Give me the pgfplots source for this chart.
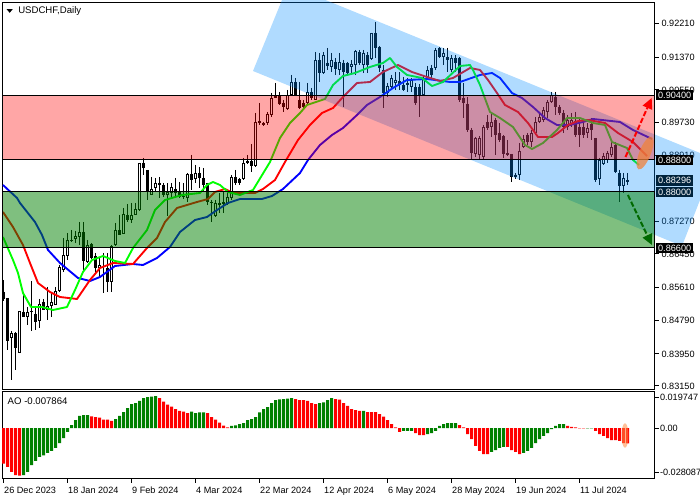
\documentclass[border=0pt]{standalone}
\usepackage{fontspec}
\setmainfont{Liberation Sans}
\usepackage{pgfplots}
\usepackage{pgfplotstable}
\pgfplotsset{compat=1.18}
\usetikzlibrary{arrows.meta}
\definecolor{chBlue}{RGB}{0,139,255}
\definecolor{aoG}{RGB}{0,128,0}
\definecolor{arrG}{RGB}{0,105,0}
\definecolor{navyBox}{RGB}{0,35,60}
\newcommand{\lbl}{\fontsize{6.85pt}{8pt}\selectfont}
\newcommand{\captxt}{\fontsize{7.2pt}{8pt}\selectfont}
\pgfplotstableread{
i top bot h l
0 .85500 .85325 .85800 .85275
1 .85350 .84275 .85350 .84050
3 .84475 .84100 .84500 .83550
5 .85000 .84875 .85450 .84875
7 .850125 .849875 .85775 .84525
8 .84950 .84750 .85125 .84550
10 .85250 .85050 .85325 .85050
17 .86800 .86775 .87050 .86750
20 .87000 .86275 .87250 .86000
22 .86700 .86350 .86725 .86325
23 .86400 .86100 .86475 .86000
25 .86150 .86125 .86475 .85475
26 .86100 .85750 .86475 .85500
29 .87050 .86925 .87425 .86925
31 .87425 .87300 .87700 .87250
35 .88725 .88600 .88850 .88425
36 .88550 .88000 .88550 .87800
40 .88175 .87925 .88225 .87875
43 .88075 .87975 .88350 .87850
44 .88000 .87875 .88250 .87850
45 .87900 .87875 .88225 .87825
47 .88450 .88300 .88925 .88050
49 .88475 .88350 .88625 .88100
50 .88350 .88175 .88600 .88000
51 .88225 .87750 .88225 .87675
52 .87750 .87725 .87800 .87250
58 .88375 .88225 .88550 .88175
59 .88325 .88225 .88350 .88175
62 .88775 .88650 .89200 .88500
64 .89775 .89725 .90225 .89675
65 .89725 .89675 .89750 .89650
69 .90400 .90200 .90500 .90175
70 .90225 .90125 .90300 .90000
73 .90750 .90425 .90850 .90400
74 .90300 .90100 .90750 .90075
75 .90225 .90125 .90300 .90050
77 .90500 .90350 .90600 .90300
79 .91300 .90975 .91475 .90750
81 .91225 .91150 .91600 .91050
83 .91250 .91075 .91350 .90925
85 .91225 .91000 .91300 .90125
86 .91225 .90975 .91250 .90925
89 .91500 .91225 .91550 .91175
91 .91425 .91175 .91500 .90975
93 .91975 .91600 .92250 .91350
94 .91625 .91100 .91650 .91000
95 .91050 .90475 .91175 .90100
99 .90775 .90675 .91000 .90550
100 .90675 .90550 .90875 .90525
103 .90625 .90225 .90725 .90175
104 .90625 .90425 .90700 .89875
107 .91100 .90925 .91175 .90850
109 .91600 .91375 .91625 .91350
111 .91375 .91300 .91600 .91000
113 .91350 .91225 .91425 .91000
114 .91350 .90300 .91375 .90250
115 .90350 .90225 .90725 .89850
116 .90200 .89550 .90375 .89500
117 .89550 .88975 .89600 .88800
121 .89750 .89600 .89925 .89550
123 .89800 .89425 .89850 .88925
124 .89475 .89300 .89725 .89250
125 .89400 .88950 .89425 .88850
126 .88975 .88925 .89300 .88900
127 .88950 .88375 .88950 .88250
128 .88425 .88375 .88475 .88325
131 .89425 .89250 .89475 .89175
138 .90375 .90125 .90500 .89925
139 .90125 .89975 .90175 .89925
140 .89975 .89625 .90050 .89475
143 .89775 .89425 .90000 .89375
144 .89625 .89425 .89875 .89125
145 .89625 .89425 .89750 .89350
147 .89700 .89550 .89850 .89300
148 .89350 .88300 .89350 .88250
153 .89175 .88500 .89250 .88475
154 .88475 .88150 .88550 .87750
}\downT
\pgfplotstableread{
i top bot h l
2 .84475 .84350 .84525 .83300
4 .85025 .83975 .85025 .83975
6 .85000 .84875 .85125 .84675
9 .85200 .84775 .85325 .84600
11 .85150 .85050 .85625 .84800
12 .85250 .85150 .85475 .84875
13 .85525 .85175 .85625 .85175
14 .86125 .85525 .86175 .85500
15 .86425 .86050 .86850 .86000
16 .86800 .86400 .86975 .86300
18 .86900 .86825 .87025 .86725
19 .87000 .86875 .87250 .86675
21 .86675 .86250 .86800 .86225
24 .86175 .86100 .86375 .85850
27 .86650 .85750 .86675 .85500
28 .87050 .86675 .87225 .86650
30 .87450 .86950 .87600 .86950
32 .87425 .87300 .87725 .87225
33 .87575 .87425 .87725 .87425
34 .88725 .87550 .88725 .87525
37 .88075 .87925 .88375 .87925
38 .88225 .88100 .88350 .88000
39 .88225 .88175 .88375 .87850
41 .88000 .87925 .88225 .87400
42 .88125 .87975 .88225 .87850
46 .88450 .87850 .88475 .87750
48 .88475 .88325 .88675 .88225
53 .87725 .87400 .87800 .87375
54 .87725 .87675 .87975 .87475
55 .87750 .87700 .88000 .87475
56 .87875 .87700 .88000 .87675
57 .88375 .87850 .88425 .87800
60 .88725 .88325 .88850 .88300
61 .88775 .88725 .88925 .88700
63 .89750 .88650 .89975 .88625
66 .89950 .89725 .90000 .89675
67 .90350 .89925 .90475 .89875
68 .90400 .90350 .90725 .90350
71 .90425 .90075 .90550 .90050
72 .90750 .90425 .90925 .90400
76 .90500 .90225 .90725 .90175
78 .91300 .90300 .91500 .90300
80 .91425 .90975 .91500 .90950
82 .91300 .91125 .91475 .91000
84 .91250 .91050 .91475 .90925
87 .91200 .91125 .91300 .90975
88 .91525 .91175 .91550 .90925
90 .91475 .91175 .91550 .90975
92 .91975 .91325 .91975 .91300
96 .90650 .90475 .90725 .90375
97 .90850 .90625 .90925 .90550
98 .90800 .90725 .91000 .90550
101 .90725 .90675 .90850 .90500
102 .90800 .90625 .90850 .90500
105 .90850 .90425 .90900 .90400
106 .91050 .90850 .91150 .90800
108 .91550 .91100 .91600 .91050
110 .91475 .91375 .91600 .91175
112 .91350 .91050 .91425 .91000
118 .89350 .88950 .89375 .88875
119 .89350 .88925 .89400 .88800
120 .89625 .88875 .89675 .88825
122 .89750 .89625 .89975 .89375
129 .89025 .88425 .89225 .88300
130 .89325 .89125 .89425 .89100
132 .89475 .89250 .89550 .89125
133 .89750 .89475 .89875 .89425
134 .89875 .89750 .89975 .89725
135 .90050 .89800 .90125 .89750
136 .90250 .90000 .90300 .89850
137 .90425 .90250 .90500 .90225
141 .89800 .89625 .89925 .89550
142 .89800 .89675 .89975 .89625
146 .89600 .89475 .89725 .89350
149 .88800 .88325 .88850 .88175
150 .88900 .88700 .88975 .88675
151 .88975 .88800 .89025 .88725
152 .89125 .88925 .89250 .88875
155 .88350 .88150 .88475 .87975
156 .88300 .88250 .88475 .88175
}\upT
\pgfplotstableread{
i v
0 -.02278
1 -.02488
2 -.02807
3 -.02999
4 -.03043
22 .00746
23 .00702
24 .00657
25 .0053
26 .0053
27 .00447
39 .01914
40 .01678
41 .01487
42 .01359
43 .01212
44 .01085
45 .0104
46 .00957
51 .00957
52 .00702
53 .0053
54 .00338
55 .00147
56 .00045
73 .0185
74 .01786
75 .01786
76 .01723
77 .01595
78 .01531
83 .0185
84 .01806
85 .01595
86 .01404
87 .01212
88 .01148
89 .01085
91 .01021
92 .01021
93 .01021
94 .00893
95 .00721
96 .0051
97 .00255
98 .00045
99 -.00255
103 -.00319
104 -.00447
105 -.00447
114 .00191
115 .00045
116 -.00383
117 -.00702
118 -.01148
119 -.01467
120 -.01659
121 -.01659
126 -.01212
127 -.01404
128 -.01531
129 -.01659
141 .00128
142 .00064
143 .00045
144 -.00019
145 -.00019
148 -.00191
149 -.00383
150 -.0051
151 -.00638
152 -.00766
153 -.00766
154 -.00829
155 -.00957
156 -.00976
}\aoRed
\pgfplotstableread{
i v
5 -.02999
6 -.02807
7 -.02361
8 -.02105
9 -.0185
10 -.01742
11 -.01595
12 -.01467
13 -.01276
14 -.00957
15 -.00638
16 -.00255
17 .00191
18 .0051
19 .00766
20 .00829
21 .00829
28 .00574
29 .00766
30 .01021
31 .01276
32 .01531
33 .01595
34 .01723
35 .01914
36 .01978
37 .01997
38 .02042
47 .0104
48 .00957
49 .01002
50 .01002
57 .00128
58 .00172
59 .00255
60 .00319
61 .0051
62 .00574
63 .00702
64 .01002
65 .01212
66 .0134
67 .01595
68 .01786
69 .01831
70 .0185
71 .01869
72 .01914
79 .01595
80 .0164
81 .01786
82 .01914
90 .01085
100 -.00191
101 -.00191
102 -.00191
106 -.00383
107 -.00319
108 -.00191
109 .00128
110 .00255
111 .00319
112 .00319
113 .00319
122 -.01531
123 -.01404
124 -.01276
125 -.01212
130 -.01595
131 -.01467
132 -.01276
133 -.00957
134 -.00702
135 -.0051
136 -.00319
137 -.00064
138 .00128
139 .00255
140 .00255
146 -.00019
147 -.00019
}\aoGreen
\begin{document}
\begin{tikzpicture}[x=1pt,y=1pt]
\path[use as bounding box] (0,0) rectangle (525pt,375pt);
\begin{axis}[
  at={(1.875pt,82.875pt)}, anchor=south west, scale only axis,
  width=489pt, height=290.25pt,
  xmin=-0.25, xmax=162.75, ymin=0.830625, ymax=0.927375,
  clip=false, xtick=\empty, scaled y ticks=false,
  ytick pos=right, yticklabel pos=right,
  ytick={0.9221,0.9137,0.9055,0.8973,0.8891,0.8727,0.8645,0.8561,0.8479,0.8395,0.8315},
  yticklabels={0.92210,0.91370,0.90550,0.89730,0.88910,0.87270,0.86450,0.85610,0.84790,0.83950,0.83150},
  yticklabel style={font=\lbl, anchor=west, xshift=-1.2pt},
  tick align=outside, major tick length=3pt,
  every tick/.style={black, line width=.75pt},
  axis line style={line width=.75pt},
]
% candles
\addplot[draw=none, mark=none, forget plot, error bars/.cd, y dir=minus, y explicit, error mark=none, error bar style={draw=black,line width=.75pt}] table[x=i,y=h,y error minus expr={\thisrow{h}-\thisrow{l}}] {\downT};
\addplot[draw=none, mark=none, forget plot, error bars/.cd, y dir=minus, y explicit, error mark=none, error bar style={draw=black,line width=.75pt}] table[x=i,y=h,y error minus expr={\thisrow{h}-\thisrow{l}}] {\upT};
\addplot[draw=none, mark=none, forget plot, error bars/.cd, y dir=minus, y explicit, error mark=none, error bar style={draw=black,line width=2.25pt}] table[x=i,y=top,y error minus expr={\thisrow{top}-\thisrow{bot}}] {\downT};
\addplot[draw=none, mark=none, forget plot, error bars/.cd, y dir=minus, y explicit, error mark=none, error bar style={draw=black,line width=2.25pt}] table[x=i,y=top,y error minus expr={\thisrow{top}-\thisrow{bot}}] {\upT};
\addplot[draw=none, mark=none, forget plot, error bars/.cd, y dir=minus, y explicit, error mark=none, error bar style={draw=white,line width=.75pt}] table[x=i,y expr={\thisrow{top}-0.00025},y error minus expr={\thisrow{top}-\thisrow{bot}-0.0005}] {\upT};
% moving averages
\addplot[blue, line width=1.4pt, line join=round] coordinates {
(-.125,.88175)(3.375,.8785)(4.125,.87725)(7.875,.8725)(9.625,.86925)(11.125,.8655)(14.125,.86225)(18.625,.8585)(21.625,.85775)(24.125,.85875)(27.875,.8615)(32.375,.862)(34.875,.86175)(38.375,.8635)(41.625,.86625)(44.125,.87)(47.875,.873)(50.875,.87375)(53.375,.8755)(56.125,.87725)(59.125,.87825)(64.625,.87825)(67.125,.879)(69.875,.88075)(74.125,.88475)(76.125,.888)(79.125,.89175)(82.125,.89425)(84.875,.896)(88.375,.89925)(90.875,.90175)(94.125,.90375)(97.375,.906)(100.875,.908)(105.875,.90825)(111.625,.9075)(114.125,.9075)(119.125,.90925)(122.125,.90975)(124.125,.9085)(127.125,.90475)(129.625,.9035)(132.375,.90125)(135.375,.8985)(138.375,.89675)(141.625,.89675)(144.875,.8975)(147.375,.89825)(154.125,.8975)(157.375,.8955)(162.125,.89325)};
\addplot[red, line width=1.4pt, line join=round] coordinates {
(-.125,.875)(2.375,.87125)(4.875,.86675)(6.625,.86225)(8.625,.85725)(11.625,.855)(14.125,.85375)(18.375,.85325)(21.625,.858)(24.125,.861)(27.375,.86225)(32.375,.862)(35.875,.866)(38.375,.8685)(40.375,.8725)(43.375,.876)(48.375,.8775)(51.125,.87825)(52.875,.88)(55.375,.88075)(57.375,.87975)(62.875,.87975)(64.875,.88075)(67.875,.883)(70.375,.8875)(73.625,.893)(76.625,.89675)(79.625,.89975)(82.375,.901)(84.875,.90375)(88.375,.90725)(91.625,.9075)(94.875,.91)(98.625,.91175)(102.125,.91)(105.875,.90875)(109.125,.90775)(112.375,.9085)(116.625,.911)(119.125,.9105)(121.125,.908)(123.375,.90475)(125.375,.90175)(128.625,.9)(131.125,.89725)(133.625,.89375)(137.125,.89375)(138.625,.89475)(141.125,.89675)(143.625,.89775)(146.125,.898)(150.375,.89725)(153.625,.89475)(157.375,.8925)(160.875,.889)};
\addplot[color={rgb,255:red,0;green,255;blue,0}, line width=1.4pt, line join=round] coordinates {
(-.125,.86875)(2.375,.863)(3.625,.85975)(4.875,.85475)(6.875,.85125)(9.625,.85125)(12.375,.8505)(15.875,.85125)(17.875,.8555)(19.875,.86)(22.125,.863)(24.875,.864)(27.875,.86275)(30.375,.86225)(32.375,.866)(35.875,.8705)(37.875,.8755)(40.375,.878)(44.625,.87925)(49.125,.87975)(50.875,.88175)(52.375,.8825)(54.125,.88175)(56.125,.88)(59.125,.87925)(62.375,.8805)(66.625,.8875)(69.125,.8935)(71.625,.89725)(74.125,.89975)(75.875,.90175)(80.375,.90325)(82.375,.90675)(84.875,.909)(87.875,.90975)(91.625,.91125)(94.875,.91225)(96.625,.9135)(98.375,.91125)(100.875,.90925)(104.625,.9085)(107.125,.9065)(109.875,.9075)(114.125,.9115)(116.625,.91175)(117.375,.9105)(119.125,.90675)(121.625,.9)(124.125,.8985)(127.375,.89625)(130.375,.89175)(132.125,.89075)(134.875,.89225)(138.375,.8955)(140.875,.8985)(144.125,.8985)(147.375,.89725)(150.375,.89675)(152.125,.8925)(155.875,.891)(157.375,.888)(158.875,.88675)};
% channel and zones
\addplot[fill=chBlue, fill opacity=.31, draw=none] coordinates {(62.375,.91025)(69.625,.928)(80.5,.928)(174.125,.88975)(174.125,.878)(169.625,.8665)} -- cycle;
\addplot[fill=red, fill opacity=.35, draw=black, line width=.75pt] coordinates {(-.25,.904)(162.75,.904)(162.75,.888)(-.25,.888)} -- cycle;
\addplot[fill=aoG, fill opacity=.5, draw=black, line width=.75pt] coordinates {(-.25,.88)(162.75,.88)(162.75,.866)(-.25,.866)} -- cycle;
% highlight and arrows
\fill[color={rgb,255:red,240;green,130;blue,60}, opacity=.75] (axis cs:160.4,.88975) ellipse [x radius=13.2pt, y radius=4.3pt, rotate=68];
\addplot[red, dash pattern=on 4pt off 1.6pt, line width=1.5pt, -{Triangle[length=8pt,width=7.5pt]}] coordinates {(155.5,.88875)(162.05,.9035)};
\addplot[arrG, dash pattern=on 4pt off 1.6pt, line width=1.5pt, -{Triangle[length=8pt,width=7.5pt]}] coordinates {(156.1,.87925)(162.1,.86675)};
\end{axis}
\begin{axis}[
  at={(1.875pt,15.75pt)}, anchor=south west, scale only axis,
  width=489pt, height=65.625pt,
  xmin=-0.25, xmax=162.75, ymin=-0.03254, ymax=0.02329,
  clip=false, scaled y ticks=false,
  xtick={0,16,32,48,64,80,96,112,128,144},
  xticklabels={26 Dec 2023,18 Jan 2024,9 Feb 2024,4 Mar 2024,22 Mar 2024,12 Apr 2024,6 May 2024,28 May 2024,19 Jun 2024,11 Jul 2024},
  xtick pos=bottom,
  xticklabel style={font=\lbl, anchor=north west, xshift=-3pt, yshift=0.6pt},
  ytick pos=right, yticklabel pos=right,
  ytick={0.019747,0,-0.028087},
  yticklabels={0.019747,0.00,-0.028087},
  yticklabel style={font=\lbl, anchor=west, xshift=-2.4pt},
  tick align=outside, major tick length=3pt,
  every tick/.style={black, line width=.75pt},
  axis line style={line width=.75pt},
]
\addplot[ybar, bar width=2.25pt, bar shift=0pt, fill=red, draw=none] table[x=i,y=v] {\aoRed};
\addplot[ybar, bar width=2.25pt, bar shift=0pt, fill=aoG, draw=none] table[x=i,y=v] {\aoGreen};
\fill[color={rgb,255:red,255;green,140;blue,70}, opacity=.55] (axis cs:155.375,-.00479) ellipse [x radius=2.6pt, y radius=9.2pt];
\end{axis}
% price boxes and captions
\foreach \yy/\tt/\cc in {95/0.90400/black,160/0.88800/black,180.5/0.88296/navyBox,192/0.88000/navyBox,248/0.86600/black}{
  \node[fill=\cc, text=white, font=\lbl, inner sep=0pt, minimum width=27.6pt, minimum height=7.8pt, anchor=west] at (492pt,{(500-\yy)*0.75pt}) {\tt};
}
\fill[black] (4.9pt,368.2pt) -- (9.6pt,368.2pt) -- (7.25pt,365.4pt) -- cycle;
\node[font=\captxt, anchor=west, inner sep=0pt, text=black] at (13.5pt,366.4pt) {USDCHF,Daily};
\node[font=\captxt, anchor=west, inner sep=0pt, text=black] at (5.6pt,74.4pt) {AO -0.007864};
\end{tikzpicture}
\end{document}
